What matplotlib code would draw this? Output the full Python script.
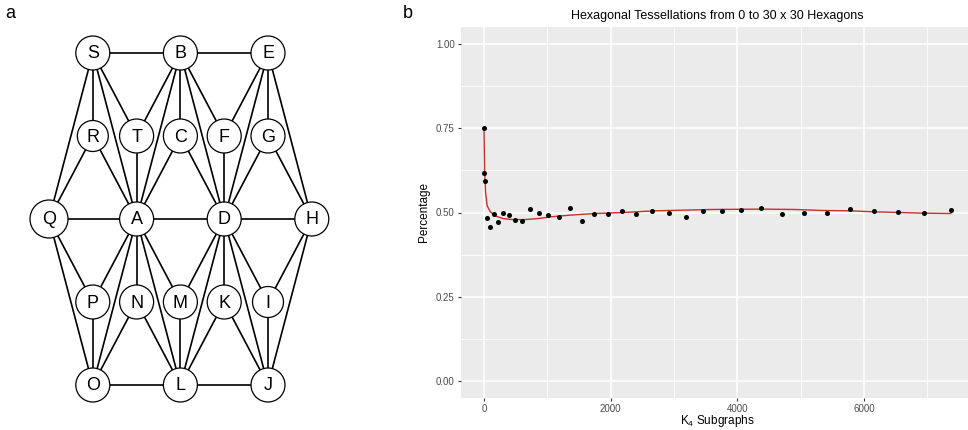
import numpy as np
import matplotlib
matplotlib.use('Agg')
import matplotlib.pyplot as plt
from matplotlib.patches import Circle

plt.rcParams['font.family'] = ['Liberation Sans', 'DejaVu Sans']
plt.rcParams['mathtext.fontset'] = 'custom'
plt.rcParams['mathtext.rm'] = 'Liberation Sans'
plt.rcParams['mathtext.it'] = 'Liberation Sans:italic'

# ---- panel a: graph (node -> grid column, row)
nodes = {
    'S': (1, 0), 'B': (3, 0), 'E': (5, 0),
    'R': (1, 1), 'T': (2, 1), 'C': (3, 1), 'F': (4, 1), 'G': (5, 1),
    'Q': (0, 2), 'A': (2, 2), 'D': (4, 2), 'H': (6, 2),
    'P': (1, 3), 'N': (2, 3), 'M': (3, 3), 'K': (4, 3), 'I': (5, 3),
    'O': (1, 4), 'L': (3, 4), 'J': (5, 4),
}
edges = [
    'SB', 'BE', 'QA', 'AD', 'DH', 'OL', 'LJ',
    'SQ', 'SR', 'SA', 'ST', 'RQ', 'RA', 'TA', 'TB',
    'BA', 'BC', 'BD', 'BF', 'CA', 'CD', 'FD', 'FE',
    'ED', 'EG', 'EH', 'GD', 'GH',
    'QP', 'QO', 'PA', 'PO', 'AO', 'AN', 'AL', 'AM', 'NO', 'NL',
    'ML', 'MD', 'DL', 'DK', 'DJ', 'DI', 'KL', 'KJ', 'IJ', 'IH', 'HJ',
]
node_radius = {'Q': 19, 'R': 15.5, 'I': 15.5}

# ---- panel b: scatter + fitted curve
k4_counts = [0, 8, 18, 52, 100, 158, 216, 295, 390, 495, 595, 726, 863, 1016,
             1179, 1353, 1542, 1737, 1953, 2174, 2400, 2658, 2916, 3184, 3458,
             3758, 4063, 4379, 4711, 5048, 5411, 5775, 6154, 6543, 6948, 7370]
percentage = [0.752, 0.616, 0.593, 0.485, 0.456, 0.496, 0.473, 0.500, 0.492,
              0.479, 0.474, 0.511, 0.498, 0.494, 0.488, 0.513, 0.476, 0.497,
              0.497, 0.504, 0.497, 0.505, 0.498, 0.487, 0.503, 0.505, 0.508,
              0.513, 0.496, 0.498, 0.500, 0.510, 0.504, 0.501, 0.500, 0.508]
fit_x = [0, 10, 25, 50, 100, 175, 300, 450, 650, 850, 1100, 1350, 1750, 2200,
         2700, 3600, 4400, 4900, 5350, 5780, 6150, 6570, 6930, 7370]
fit_y = [0.752, 0.62, 0.56, 0.52, 0.502, 0.49, 0.482, 0.479, 0.479, 0.482,
         0.488, 0.492, 0.497, 0.500, 0.505, 0.509, 0.510, 0.509, 0.506, 0.505,
         0.502, 0.500, 0.498, 0.497]

W, H = 968, 430
fig = plt.figure(figsize=(W / 100, H / 100), dpi=100)

# panel a, drawn in pixel units
axa = fig.add_axes([0, 0, 400 / W, 1])
axa.set_xlim(0, 400)
axa.set_ylim(H, 0)
axa.axis('off')


def node_xy(name):
    c, r = nodes[name]
    return 49 + 43.8 * c, 53 + 83 * r


for e in edges:
    x1, y1 = node_xy(e[0])
    x2, y2 = node_xy(e[1])
    axa.plot([x1, x2], [y1, y2], color='black', lw=1.2, zorder=1)

for name in nodes:
    x, y = node_xy(name)
    axa.add_patch(Circle((x, y), node_radius.get(name, 17), facecolor='white',
                         edgecolor='black', lw=0.9, zorder=2))
    axa.text(x, y + 1, name, ha='center', va='center', fontsize=13, zorder=3)

fig.text(10 / W, 1 - 13 / H, 'a', fontsize=13, ha='center', va='center')
fig.text(408 / W, 1 - 13 / H, 'b', fontsize=13, ha='center', va='center')

# panel b
left, right, top, bottom = 461, 974, 27, 398
axb = fig.add_axes([left / W, 1 - bottom / H, (right - left) / W, (bottom - top) / H])
axb.set_facecolor('#ebebeb')
for s in axb.spines.values():
    s.set_visible(False)
axb.set_xlim(-363, 7737)
axb.set_ylim(-0.05, 1.05)
axb.set_xticks([0, 2000, 4000, 6000])
axb.set_xticks([1000, 3000, 5000, 7000], minor=True)
axb.set_yticks([0, 0.25, 0.5, 0.75, 1.0])
axb.set_yticklabels(['0.00', '0.25', '0.50', '0.75', '1.00'])
axb.set_yticks([0.125, 0.375, 0.625, 0.875], minor=True)
axb.grid(which='major', color='white', lw=1.1)
axb.grid(which='minor', color='white', lw=0.55)
axb.set_axisbelow(True)
axb.tick_params(which='major', length=2.5, width=0.8, color='#333333',
                labelsize=7, labelcolor='#4d4d4d', pad=2)
axb.tick_params(which='minor', length=0)

axb.plot(fit_x, fit_y, color='#c8302c', lw=1.0, zorder=2)
axb.scatter(k4_counts, percentage, s=13, color='black', zorder=3, lw=0)

axb.set_ylabel('Percentage', fontsize=8.5, labelpad=4)
axb.set_title('Hexagonal Tessellations from 0 to 30 x 30 Hexagons', fontsize=9, pad=6)
fig.text(717 / W, 1 - 421 / H, 'K$_4$ Subgraphs', fontsize=8.5,
         ha='center', va='center')

fig.savefig('out.png', dpi=100)
